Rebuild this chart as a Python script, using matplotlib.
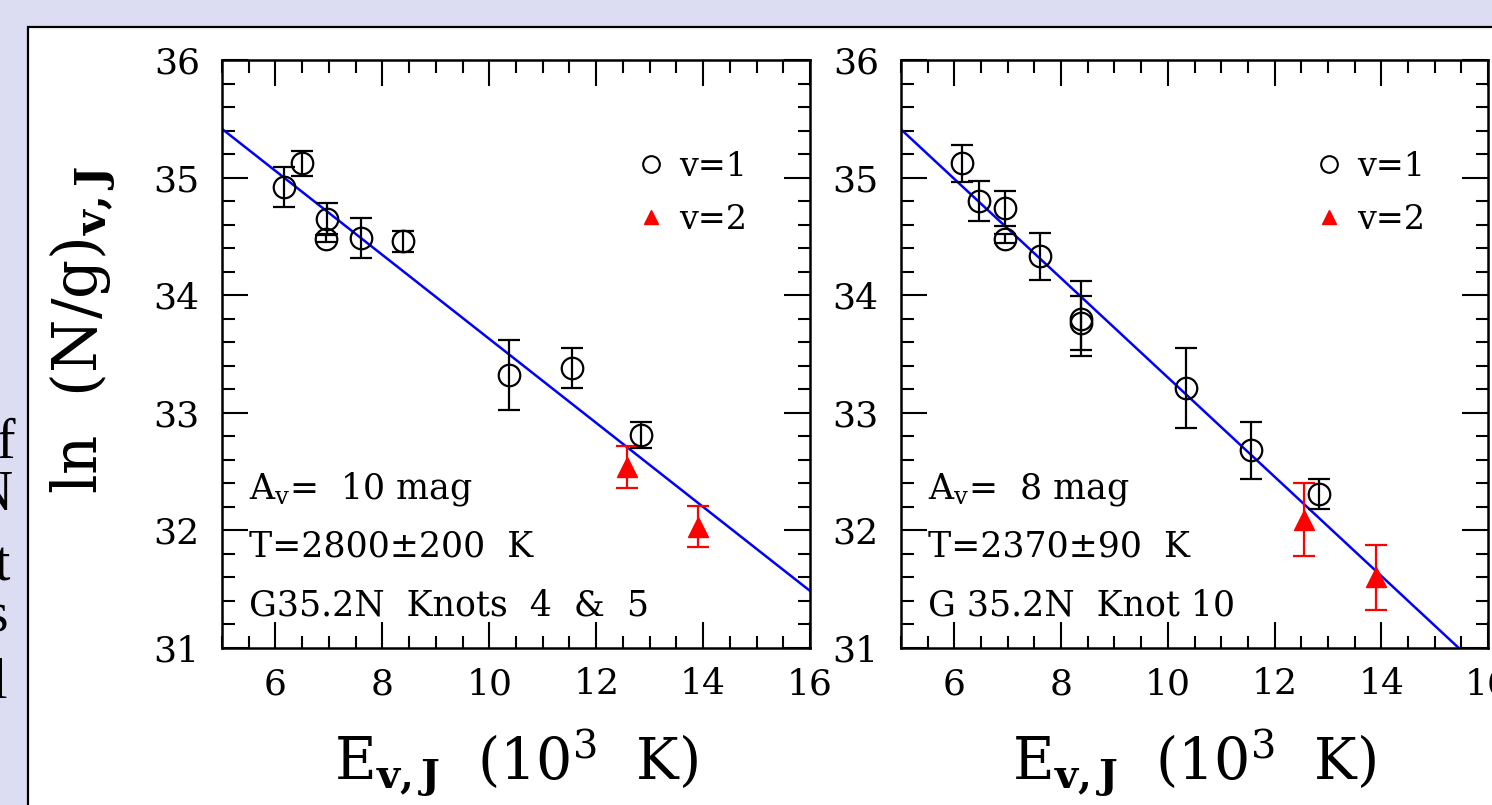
import matplotlib
matplotlib.use('Agg')
import matplotlib.pyplot as plt
from matplotlib.lines import Line2D
from matplotlib.patches import Rectangle
from matplotlib.ticker import MultipleLocator

plt.rcParams['font.family'] = 'DejaVu Serif'
plt.rcParams['mathtext.fontset'] = 'dejavuserif'

# ---------------- data ----------------
# Left panel: G35.2N Knots 4 & 5  (E in 10^3 K, ln(N/g))
v1_E_L = [6.16, 6.49, 6.96, 6.95, 7.60, 8.38, 10.36, 11.55, 12.83]
v1_lnNg_L = [34.92, 35.12, 34.65, 34.48, 34.49, 34.46, 33.32, 33.38, 32.81]
v1_err_L = [0.17, 0.11, 0.13, 0.03, 0.17, 0.09, 0.30, 0.17, 0.11]
v2_E_L = [12.57, 13.91]
v2_lnNg_L = [32.54, 32.03]
v2_err_L = [0.18, 0.175]
fit_T_L = 2800.0      # K
fit_b_L = 37.20       # intercept at E=0

# Right panel: G35.2N Knot 10
v1_E_R = [6.15, 6.47, 6.95, 6.95, 7.60, 8.37, 8.37, 10.35, 11.55, 12.83]
v1_lnNg_R = [35.12, 34.80, 34.74, 34.48, 34.33, 33.80, 33.76, 33.21, 32.68, 32.31]
v1_err_R = [0.16, 0.17, 0.15, 0.04, 0.20, 0.32, 0.23, 0.34, 0.245, 0.13]
v2_E_R = [12.56, 13.90]
v2_lnNg_R = [32.09, 31.60]
v2_err_R = [0.31, 0.28]
fit_T_R = 2370.0
fit_b_R = 37.52

notes_L = [r'A$_{\rm v}$=  10 mag', 'T=2800±200  K', 'G35.2N  Knots  4  &  5']
notes_R = [r'A$_{\rm v}$=  8 mag', 'T=2370±90  K', 'G 35.2N  Knot 10']
legend_labels = ['v=1', 'v=2']
side_letters = ['f', 'N', 't', 's', 'l']

xlabel = r'E$_{\mathbf{v,J}}$  (10$^{3}$  K)'
ylabel = r'ln  (N/g)$_{\mathbf{v,J}}$'

# ---------------- figure ----------------
W, H = 1492, 805
fig = plt.figure(figsize=(W / 100, H / 100), dpi=100)
fig.patch.set_facecolor('#dcdcf3')
fig.patches.append(Rectangle((28 / W, -0.05), 1.0, 1 - 27 / H + 0.05,
                             transform=fig.transFigure, facecolor='white',
                             edgecolor='black', lw=1.6, zorder=-5))

# cut-off letters of neighbouring slide text
side_pos = [(15, 458), (13, 510), (10, 580), (8, 632), (7, 698)]
for ch, (px, py) in zip(side_letters, side_pos):
    fig.text(px / W, 1 - py / H, ch, family='Liberation Serif', fontsize=40,
             ha='right', va='baseline', color='black')

axL = fig.add_axes([222 / W, 1 - 648 / H, 588 / W, 588 / H])
axR = fig.add_axes([901 / W, 1 - 648 / H, 587 / W, 588 / H])


def draw(ax, E1, y1, e1, E2, y2, e2, T, b, notes):
    ax.set_xlim(5, 16)
    ax.set_ylim(31, 36)
    ax.xaxis.set_major_locator(MultipleLocator(2))
    ax.xaxis.set_minor_locator(MultipleLocator(0.5))
    ax.yaxis.set_major_locator(MultipleLocator(1))
    ax.yaxis.set_minor_locator(MultipleLocator(0.2))
    ax.tick_params(which='both', direction='in', top=True, right=True,
                   width=1.5, color='black', labelsize=26)
    ax.tick_params(which='major', length=18.5)
    ax.tick_params(which='minor', length=9)
    ax.tick_params(axis='y', pad=16)
    ax.tick_params(axis='x', pad=14)
    for s in ax.spines.values():
        s.set_linewidth(1.8)

    ax.axline((0, b), slope=-1000.0 / T, color='blue', lw=1.8, zorder=2)
    ax.errorbar(E1, y1, yerr=e1, fmt='o', ms=15.5, mfc='none', mec='black',
                mew=1.6, ecolor='black', elinewidth=1.6, capsize=8,
                capthick=1.6, zorder=3)
    ax.errorbar(E2, y2, yerr=e2, fmt='^', ms=14, color='red', mec='red',
                ecolor='red', elinewidth=1.6, capsize=8, capthick=1.6,
                zorder=3)

    for txt, yy in zip(notes, [0.255, 0.156, 0.056]):
        ax.text(0.046, yy, txt, transform=ax.transAxes, fontsize=25,
                va='baseline', ha='left')

    h1 = Line2D([], [], ls='none', marker='o', ms=12, mfc='none',
                mec='black', mew=1.5)
    h2 = Line2D([], [], ls='none', marker='^', ms=10, color='red')
    ax.legend([h1, h2], legend_labels, loc='center left',
              bbox_to_anchor=(0.701, 0.773), frameon=False, fontsize=24,
              handlelength=1.0, handletextpad=0.35, labelspacing=0.62,
              borderpad=0, borderaxespad=0)

    ax.set_xlabel(xlabel, fontsize=41, va='center')
    ax.xaxis.set_label_coords(0.5, -0.194)


draw(axL, v1_E_L, v1_lnNg_L, v1_err_L, v2_E_L, v2_lnNg_L, v2_err_L,
     fit_T_L, fit_b_L, notes_L)
draw(axR, v1_E_R, v1_lnNg_R, v1_err_R, v2_E_R, v2_lnNg_R, v2_err_R,
     fit_T_R, fit_b_R, notes_R)

axL.set_ylabel(ylabel, fontsize=44, rotation=90, ha='center', va='center',
               rotation_mode='default')
axL.yaxis.set_label_coords(-0.2364, 0.541)

fig.savefig('out.png', dpi=100, facecolor=fig.get_facecolor())
